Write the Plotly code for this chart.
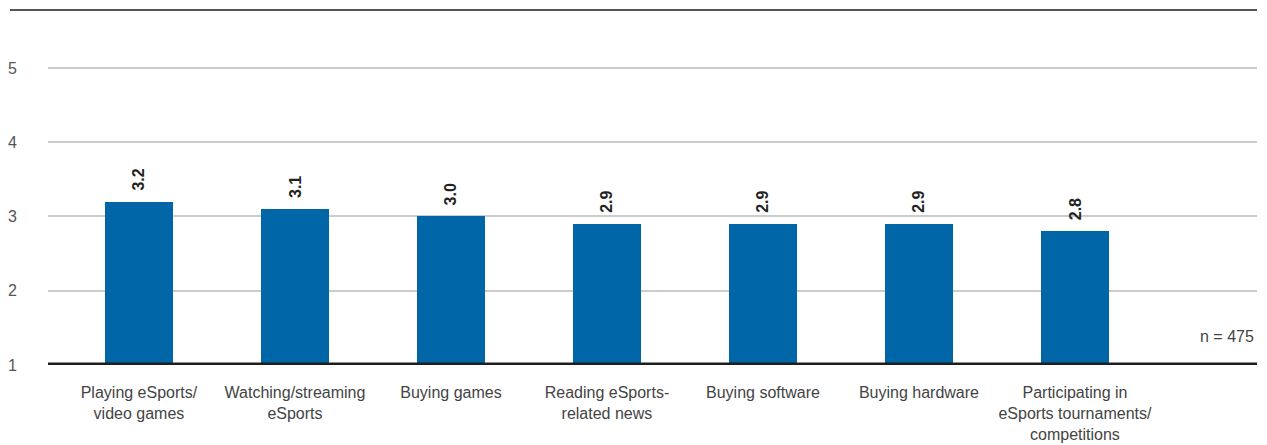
import plotly.graph_objects as go

categories = [
    "Playing eSports/<br>video games",
    "Watching/streaming<br>eSports",
    "Buying games",
    "Reading eSports-<br>related news",
    "Buying software",
    "Buying hardware",
    "Participating in<br>eSports tournaments/<br>competitions",
]
values = [3.2, 3.1, 3.0, 2.9, 2.9, 2.9, 2.8]
y_ticks = [1, 2, 3, 4, 5]
note = "n = 475"

xs = list(range(len(categories)))
FONT = "Liberation Sans, Arial, Helvetica, sans-serif"

fig = go.Figure()
fig.add_trace(go.Bar(
    x=xs, y=values, width=0.436,
    marker=dict(color="#0066a8", line=dict(width=0)),
    hoverinfo="skip",
))

for x, v in zip(xs, values):
    fig.add_annotation(
        x=x, y=v, xref="x", yref="y", text=f"<b>{v:.1f}</b>",
        textangle=-90, showarrow=False, yanchor="bottom", xanchor="center",
        yshift=9, font=dict(family=FONT, size=16, color="#222222"),
    )

fig.add_annotation(
    x=0.999, y=1.38, xref="paper", yref="y", text=note, showarrow=False,
    xanchor="right", yanchor="middle",
    font=dict(family=FONT, size=16, color="#444444"),
)

# top rule
fig.add_shape(type="line", xref="paper", yref="paper",
              x0=-38/1209, x1=1, y0=1, y1=1,
              line=dict(color="#555555", width=2))
# baseline
fig.add_shape(type="line", xref="paper", yref="y",
              x0=0, x1=1, y0=1, y1=1, layer="above",
              line=dict(color="#1e1e1e", width=5))

fig.update_layout(
    width=1259, height=437,
    margin=dict(l=40, r=10, t=2, b=80),
    paper_bgcolor="white", plot_bgcolor="white",
    showlegend=False,
    bargap=0,
    font=dict(family=FONT, size=16, color="#444444"),
    xaxis=dict(
        range=[-0.583, 7.167], tickmode="array", tickvals=xs, ticktext=categories,
        showgrid=False, zeroline=False, showline=False, ticks="",
        ticklabelstandoff=16, automargin=False,
        tickfont=dict(family=FONT, size=16, color="#444444"),
    ),
    yaxis=dict(
        range=[1, 5.78], tickmode="array", tickvals=y_ticks,
        ticktext=[str(t) for t in y_ticks],
        showgrid=True, gridcolor="#cccccc", gridwidth=1.5,
        zeroline=False, showline=False, ticks="",
        ticklabelstandoff=30, automargin=False,
        tickfont=dict(family=FONT, size=16, color="#555555"),
    ),
)

fig.write_html("out.html")
